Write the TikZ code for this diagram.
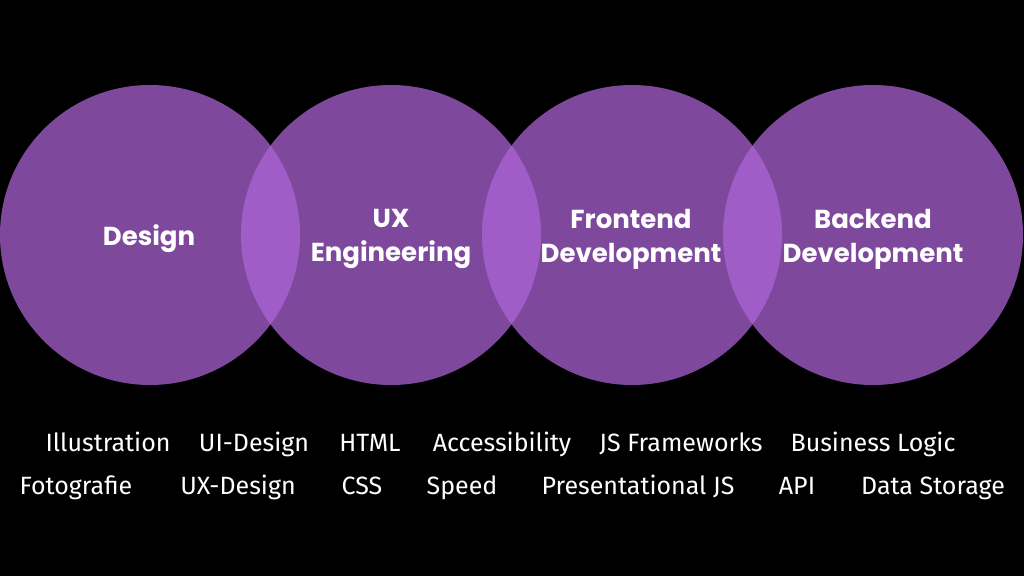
\documentclass[tikz,border=0pt]{standalone}
\usepackage{fontspec}
\setmainfont{Fira Sans}
\newfontfamily\headfont{Poppins}
\definecolor{venn}{RGB}{173,101,216}

\begin{document}
\begin{tikzpicture}[x=1pt,y=-1pt,
  area/.style={circle, fill=venn, fill opacity=0.73, minimum size=300pt, inner sep=0pt},
  topic/.style={text=white, align=center, font=\headfont\bfseries\fontsize{26}{34}\selectfont},
  skill/.style={text=white, anchor=base, font=\fontsize{25}{30}\selectfont}]
\fill[black] (0,0) rectangle (1024,576);
\useasboundingbox (0,0) rectangle (1024,576);

\node[area] (design) at (150,235) {};
\node[area] (ux) at (391,235) {};
\node[area] (frontend) at (632,235) {};
\node[area] (backend) at (873,235) {};

\node[topic] (designlabel) at (149,239) {Design};
\node[topic] (uxlabel) at (391,239) {UX\\Engineering};
\node[topic] (frontendlabel) at (631,239) {Frontend\\Development};
\node[topic] (backendlabel) at (873,239) {Backend\\Development};

\node[skill] (illustration) at (108,451) {Illustration};
\node[skill] (uidesign) at (254,451) {UI-Design};
\node[skill] (html) at (370,451) {HTML};
\node[skill] (accessibility) at (502,451) {Accessibility};
\node[skill] (jsframeworks) at (681,451) {JS Frameworks};
\node[skill] (businesslogic) at (873,451) {Business Logic};

\node[skill] (fotografie) at (76,494) {Fotografie};
\node[skill] (uxdesign) at (238,494) {UX-Design};
\node[skill] (css) at (362,494) {CSS};
\node[skill] (speed) at (462,494) {Speed};
\node[skill] (presentational) at (638,494) {Presentational JS};
\node[skill] (api) at (797,494) {API};
\node[skill] (datastorage) at (933,494) {Data Storage};
\end{tikzpicture}
\end{document}
